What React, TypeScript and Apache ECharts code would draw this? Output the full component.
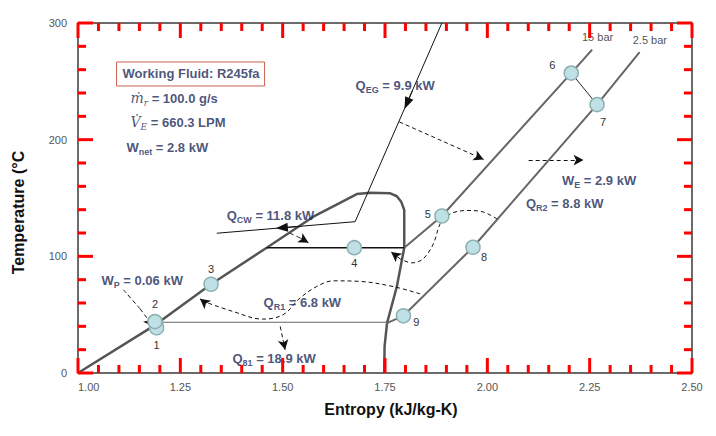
import React, { useEffect, useRef } from "react";
import * as echarts from "echarts";

// ---------- axis ranges ----------
const entropyRange = [1.0, 2.5];
const entropyStep = 0.25;
const entropyMinorPerMajor = 5;
const tempRange = [0, 300];
const tempStep = 100;
const tempMinorPerMajor = 5;

// ---------- saturation dome ----------
const domeS = [1.0, 1.189, 1.325, 1.461, 1.575, 1.64, 1.681, 1.714, 1.763, 1.779, 1.79, 1.797, 1.797, 1.797, 1.779, 1.755, 1.749, 1.748];
const domeT = [0, 41.3, 76.1, 107.4, 134.0, 145.9, 153.4, 154.5, 154.0, 151.5, 146.5, 139.7, 122.6, 107.4, 74.1, 42.8, 22.8, 0];

// ---------- isobars ----------
const highPS = [1.797, 1.889, 2.205, 2.256];
const highPT = [107.4, 134.6, 257.1, 277.2];
const lowPS = [1.753, 1.795, 1.965, 2.268, 2.372];
const lowPT = [42.5, 49.0, 107.8, 230.1, 275.1];

// ---------- phase-change lines ----------
const evapS = [1.461, 1.797];
const evapT = [107.4, 107.4];
const condS = [1.19, 1.753];
const condT = [43.5, 43.5];

// ---------- exhaust gas / cooling water line ----------
const gasS = [1.889, 1.677, 1.339];
const gasT = [300, 129.7, 119.8];

// ---------- state points ----------
const stateNames = ["1", "2", "3", "4", "5", "6", "7", "8", "9"];
const stateS = [1.192, 1.188, 1.325, 1.675, 1.889, 2.205, 2.268, 1.965, 1.795];
const stateT = [38.8, 44.1, 76.1, 107.4, 134.6, 257.1, 230.1, 107.8, 49.0];

// ---------- dashed heat/work arrows (last point = arrow tip) ----------
const arrowEG = [[1.785, 215.2], [1.991, 183.1]];
const arrowWE = [[2.101, 182.5], [2.235, 182.5]];
const arrowCW = [[1.518, 119.8], [1.543, 115.7], [1.563, 111.7]];
const arrowWP = [[1.111, 71.3], [1.152, 54.9], [1.184, 39.9]];
const arrowQ81 = [[1.494, 39.9], [1.506, 19.9]];
const arrowQR1 = [[1.836, 67.8], [1.77, 74.1], [1.689, 78.5], [1.623, 79.0], [1.583, 74.1], [1.543, 64.4], [1.501, 49.9], [1.45, 46.2], [1.379, 52.7], [1.306, 61.4], [1.298, 63.6]];
const arrowQR2 = [[2.024, 132.0], [1.99, 138.0], [1.953, 139.3], [1.914, 137.1], [1.887, 129.4], [1.868, 110.6], [1.843, 97.8], [1.816, 94.4], [1.787, 97.8], [1.765, 103.8]];

// ---------- solid flow arrowheads on the gas line ----------
const flowArrowEG = [[1.8175, 242.3], [1.8035, 231.0]];
const flowArrowCW = [[1.543, 125.7], [1.498, 124.5]];

// ---------- annotations ----------
const annotS = [1.093, 1.127, 1.127, 1.117, 1.677, 2.181, 2.093, 1.362, 1.056, 1.452, 1.376, 2.23, 2.354];
const annotT = [256.3, 235.5, 215.0, 193.6, 246.6, 165.4, 145.7, 135.4, 79.0, 60.1, 12.2, 287.7, 285.1];
const annotText = [
  "{w|Working Fluid: R245fa}",
  "{i|ṁ}{is|r}{t| = 100.0 g/s}",
  "{i|V̇}{is|E}{t| = 660.3 LPM}",
  "{t|W}{s|net}{t| = 2.8 kW}",
  "{t|Q}{s|EG}{t| = 9.9 kW}",
  "{t|W}{s|E}{t| = 2.9 kW}",
  "{t|Q}{s|R2}{t| = 8.8 kW}",
  "{t|Q}{s|CW}{t| = 11.8 kW}",
  "{t|W}{s|P}{t| = 0.06 kW}",
  "{t|Q}{s|R1}{t| = 6.8 kW}",
  "{t|Q}{s|81}{t| = 18.9 kW}",
  "{p|15 bar}",
  "{p|2.5 bar}",
];

// ---------- styling (not data) ----------
const navy = "#1b2a58";
const sans = "'Liberation Sans', Arial, sans-serif";
const serif = "'DejaVu Serif', serif";
const axisColor = "#3a3a3a";
const tickColor = "#ff0000";
const pointLabelOffsets = [[0, 17], [0, -18], [0, -15], [0, 15], [-14, -2], [-19, -8], [6, 17], [11, 10], [13, 6]];

const zip = (a: number[], b: number[]) => a.map((v, i) => [v, b[i]]);

const tickData: number[][] = [];
{
  const nx = Math.round((entropyRange[1] - entropyRange[0]) / entropyStep) * entropyMinorPerMajor;
  for (let i = 0; i <= nx; i++) {
    tickData.push([entropyRange[0] + (i * entropyStep) / entropyMinorPerMajor, i % entropyMinorPerMajor === 0 ? 1 : 0, 0]);
  }
  const ny = Math.round((tempRange[1] - tempRange[0]) / tempStep) * tempMinorPerMajor;
  for (let j = 0; j <= ny; j++) {
    tickData.push([tempRange[0] + (j * tempStep) / tempMinorPerMajor, j % tempMinorPerMajor === 0 ? 1 : 0, 1]);
  }
}

const solidLine = (name: string, data: number[][], color: string, width: number, z = 3) => ({
  name,
  type: "line",
  data,
  symbol: "none",
  silent: true,
  z,
  lineStyle: { color, width },
});

const dashedArrow = (name: string, pts: number[][], smooth: number) => ({
  name,
  type: "line",
  data: pts.slice(0, pts.length - 1),
  symbol: "none",
  smooth,
  silent: true,
  z: 4,
  lineStyle: { color: "#111", width: 1, type: [4, 3] },
  markLine: {
    silent: true,
    symbol: ["none", "arrow"],
    symbolSize: [8, 10],
    label: { show: false },
    lineStyle: { color: "#111", width: 1, type: [4, 3] },
    data: [[{ coord: pts[pts.length - 2] }, { coord: pts[pts.length - 1] }]],
  },
});

const frameBits = () => ({
  splitLine: { show: false },
  axisLine: { show: true, onZero: false, lineStyle: { color: axisColor, width: 1.5 } },
  axisTick: { show: false },
});

const option = {
  animation: false,
  backgroundColor: "#fff",
  grid: { left: 78, right: 24, top: 23, bottom: 63 },
  xAxis: [
    {
      type: "value",
      min: entropyRange[0],
      max: entropyRange[1],
      interval: entropyStep,
      position: "bottom",
      ...frameBits(),
      name: "Entropy (kJ/kg-K)",
      nameLocation: "middle",
      nameGap: 28,
      nameTextStyle: { fontFamily: sans, fontSize: 16, fontWeight: "bold", color: "#111", padding: [0, 0, 0, 12] },
      axisLabel: {
        formatter: (v: number) => v.toFixed(2),
        fontFamily: sans,
        fontSize: 11,
        color: "#555",
        margin: 8,
        alignMinLabel: "left",
      },
    },
    {
      type: "value",
      min: entropyRange[0],
      max: entropyRange[1],
      interval: entropyStep,
      position: "top",
      ...frameBits(),
      axisLabel: { show: false },
    },
  ],
  yAxis: [
    {
      type: "value",
      min: tempRange[0],
      max: tempRange[1],
      interval: tempStep,
      position: "left",
      ...frameBits(),
      name: "Temperature (°C",
      nameLocation: "middle",
      nameGap: 52,
      nameTextStyle: { fontFamily: sans, fontSize: 16, fontWeight: "bold", color: "#111", padding: [0, 29, 0, 0] },
      axisLabel: { fontFamily: sans, fontSize: 11, color: "#555", margin: 11 },
    },
    {
      type: "value",
      min: tempRange[0],
      max: tempRange[1],
      interval: tempStep,
      position: "right",
      ...frameBits(),
      axisLabel: { show: false },
    },
  ],
  series: [
    {
      name: "frame ticks",
      type: "custom",
      silent: true,
      clip: false,
      z: 20,
      data: tickData,
      renderItem: (params: any, api: any) => {
        const v = api.value(0);
        const major = api.value(1) === 1;
        const isY = api.value(2) === 1;
        const len = major ? 15 : 8;
        const style = { stroke: tickColor, lineWidth: 3 };
        if (!isY) {
          const b = api.coord([v, tempRange[0]]);
          const t = api.coord([v, tempRange[1]]);
          return {
            type: "group",
            children: [
              { type: "line", shape: { x1: b[0], y1: b[1], x2: b[0], y2: b[1] - len }, style },
              { type: "line", shape: { x1: t[0], y1: t[1], x2: t[0], y2: t[1] + len }, style },
            ],
          };
        }
        const l = api.coord([entropyRange[0], v]);
        const r = api.coord([entropyRange[1], v]);
        return {
          type: "group",
          children: [
            { type: "line", shape: { x1: l[0], y1: l[1], x2: l[0] + len, y2: l[1] }, style },
            { type: "line", shape: { x1: r[0], y1: r[1], x2: r[0] - len, y2: r[1] }, style },
          ],
        };
      },
    },
    solidLine("dome", zip(domeS, domeT), "#555", 2.5),
    solidLine("15 bar", zip(highPS, highPT), "#666", 2),
    solidLine("2.5 bar", zip(lowPS, lowPT), "#666", 2),
    solidLine("evaporation", zip(evapS, evapT), "#111", 1.5),
    solidLine("condensation", zip(condS, condT), "#666", 1),
    solidLine("expansion", [[stateS[5], stateT[5]], [stateS[6], stateT[6]]], "#222", 1),
    {
      ...solidLine("gas", zip(gasS, gasT), "#111", 1),
      markLine: {
        silent: true,
        symbol: ["none", "triangle"],
        symbolSize: [9, 12],
        label: { show: false },
        lineStyle: { color: "#111", width: 1, type: "solid" },
        data: [
          [{ coord: flowArrowEG[0] }, { coord: flowArrowEG[1] }],
          [{ coord: flowArrowCW[0] }, { coord: flowArrowCW[1] }],
        ],
      },
    },
    dashedArrow("EG arrow", arrowEG, 0),
    dashedArrow("WE arrow", arrowWE, 0),
    dashedArrow("CW arrow", arrowCW, 0.4),
    dashedArrow("WP arrow", arrowWP, 0.4),
    dashedArrow("Q81 arrow", arrowQ81, 0),
    dashedArrow("QR1 arrow", arrowQR1, 0.35),
    dashedArrow("QR2 arrow", arrowQR2, 0.35),
    {
      name: "states",
      type: "scatter",
      z: 10,
      silent: true,
      symbol: "circle",
      symbolSize: 14,
      itemStyle: { color: "#bfe1e6", borderColor: "#8db0b2", borderWidth: 1.5, opacity: 1 },
      data: stateS.map((s, i) => ({
        value: [s, stateT[i]],
        label: {
          show: true,
          position: "inside",
          offset: pointLabelOffsets[i],
          formatter: stateNames[i],
          fontFamily: sans,
          fontSize: 11,
          color: "#333",
        },
      })),
    },
    {
      name: "annotations",
      type: "scatter",
      z: 12,
      silent: true,
      symbolSize: 1,
      itemStyle: { color: "rgba(0,0,0,0)" },
      data: annotS.map((s, i) => ({
        value: [s, annotT[i]],
        label: i === 0
          ? {
              show: true,
              position: "right",
              distance: 0,
              formatter: annotText[i],
              borderColor: "#c0392b",
              borderWidth: 1,
              padding: [5, 5, 5, 6],
            }
          : { show: true, position: "right", distance: 0, formatter: annotText[i] },
      })),
      label: {
        show: true,
        rich: {
          w: { fontFamily: sans, fontWeight: "bold", fontSize: 13, color: navy, lineHeight: 14 },
          t: { fontFamily: sans, fontWeight: "bold", fontSize: 13, color: navy, lineHeight: 18 },
          s: { fontFamily: sans, fontWeight: "bold", fontSize: 9, color: navy, lineHeight: 10, verticalAlign: "bottom" },
          i: { fontFamily: serif, fontStyle: "italic", fontSize: 14, color: navy, lineHeight: 18 },
          is: { fontFamily: serif, fontStyle: "italic", fontSize: 9, color: navy, lineHeight: 10, verticalAlign: "bottom" },
          p: { fontFamily: sans, fontSize: 11, color: "#222", lineHeight: 14 },
        },
      },
    },
  ],
};

export default function App() {
  const ref = useRef<HTMLDivElement>(null);
  useEffect(() => {
    const chart = echarts.init(ref.current!, null, { renderer: "svg" });
    chart.setOption(option as any);
    return () => chart.dispose();
  }, []);
  return (
    <div
      ref={ref}
      style={{ position: "fixed", left: 0, top: 0, width: 716, height: 436, background: "#fff" }}
    />
  );
}
